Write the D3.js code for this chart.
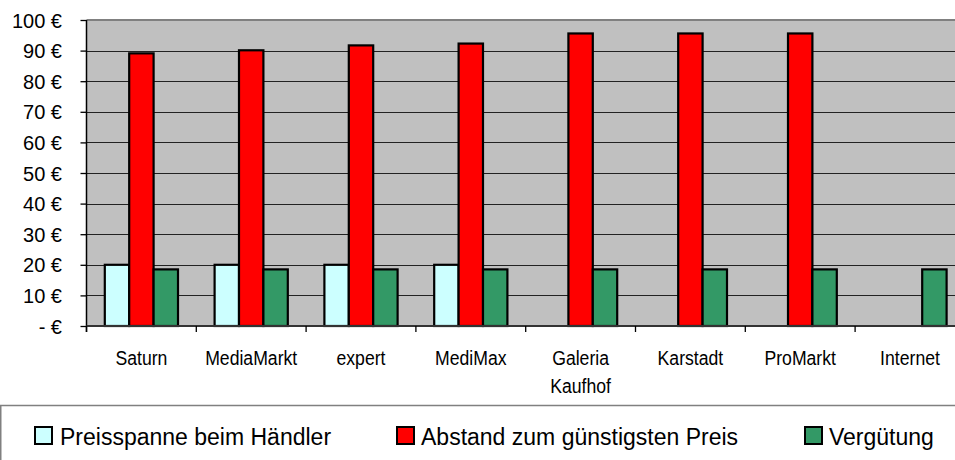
<!DOCTYPE html>
<html>
<head>
<meta charset="utf-8">
<script src="https://cdn.jsdelivr.net/npm/d3@7"></script>
<style>
  body { margin: 0; background: #fff; }
  svg { display: block; }
  .y-label { font-family: "Liberation Sans", Arial, sans-serif; font-size: 20px; fill: #000; }
  .x-label { font-family: "Liberation Sans", Arial, sans-serif; font-size: 21px; fill: #000; }
  .legend-label { font-family: "Liberation Sans", Arial, sans-serif; font-size: 23px; fill: #000; }
</style>
</head>
<body>
<svg id="chart"></svg>
<script>
// chart data
const categories = ["Saturn", "MediaMarkt", "expert", "MediMax", "Galeria\nKaufhof", "Karstadt", "ProMarkt", "Internet"];
const seriesNames = ["Preisspanne beim Händler", "Abstand zum günstigsten Preis", "Vergütung"];
const preisspanne = [20, 20, 20, 20, null, null, null, null];
const abstand = [89.1, 90.1, 91.7, 92.3, 95.6, 95.6, 95.6, null];
const verguetung = [18.5, 18.5, 18.5, 18.5, 18.5, 18.5, 18.5, 18.5];
const yTicks = [0, 10, 20, 30, 40, 50, 60, 70, 80, 90, 100];
const seriesColors = ["#CCFFFF", "#FF0000", "#339966"];

const svgWidth = 955;
const svgHeight = 460;

const svg = d3.select("#chart")
  .attr("width", svgWidth)
  .attr("height", svgHeight);

// plot area (runs past the right edge like the original)
const plotLeft = 86.5;
const plotTop = 20;
const plotBottom = 326;
const catStep = 109.8;
const plotRight = plotLeft + categories.length * catStep;

const xScale = d3.scaleBand()
  .domain(categories)
  .range([plotLeft, plotRight])
  .padding(0);

const xInner = d3.scaleBand()
  .domain(d3.range(seriesNames.length))
  .range([0, xScale.bandwidth()])
  .paddingInner(0)
  .paddingOuter(0.75);

const yScale = d3.scaleLinear()
  .domain([0, 100])
  .range([plotBottom, plotTop]);

// grey background
svg.append("rect")
  .attr("x", plotLeft)
  .attr("y", plotTop)
  .attr("width", plotRight - plotLeft)
  .attr("height", plotBottom - plotTop)
  .attr("fill", "#C0C0C0");

// gridlines
svg.append("g")
  .selectAll("line")
  .data(yTicks.filter(t => t > 0 && t < 100))
  .enter().append("line")
  .attr("x1", plotLeft)
  .attr("x2", plotRight)
  .attr("y1", d => Math.round(yScale(d)) + 0.5)
  .attr("y2", d => Math.round(yScale(d)) + 0.5)
  .attr("stroke", "#222")
  .attr("stroke-width", 1);

// top border of plot area
svg.append("line")
  .attr("x1", plotLeft)
  .attr("x2", plotRight)
  .attr("y1", plotTop)
  .attr("y2", plotTop)
  .attr("stroke", "#808080")
  .attr("stroke-width", 2);

// bars
const allSeries = [preisspanne, abstand, verguetung];
const barData = [];
categories.forEach((cat, i) => {
  allSeries.forEach((values, s) => {
    if (values[i] != null) barData.push({ cat: cat, s: s, value: values[i] });
  });
});

svg.append("g")
  .selectAll("rect")
  .data(barData)
  .enter().append("rect")
  .attr("x", d => xScale(d.cat) + xInner(d.s))
  .attr("y", d => yScale(d.value))
  .attr("width", xInner.bandwidth())
  .attr("height", d => yScale(0) - yScale(d.value))
  .attr("fill", d => seriesColors[d.s])
  .attr("stroke", "#000")
  .attr("stroke-width", 2.2);

// y axis
const yAxis = d3.axisLeft(yScale)
  .tickValues(yTicks)
  .tickSize(6)
  .tickFormat(d => d === 0 ? "-  €" : d + " €");

const yAxisGroup = svg.append("g")
  .attr("transform", "translate(" + plotLeft + ",0)")
  .call(yAxis);
yAxisGroup.select(".domain").remove();
yAxisGroup.selectAll("line").attr("stroke", "#000").attr("stroke-width", 1.3);
yAxisGroup.selectAll("text")
  .attr("class", "y-label")
  .attr("x", 62 - plotLeft)
  .attr("dy", "0.35em");

svg.append("line")
  .attr("x1", plotLeft)
  .attr("x2", plotLeft)
  .attr("y1", plotTop)
  .attr("y2", plotBottom + 6)
  .attr("stroke", "#000")
  .attr("stroke-width", 1.5);

// x axis line and category ticks
svg.append("line")
  .attr("x1", plotLeft)
  .attr("x2", plotRight)
  .attr("y1", plotBottom)
  .attr("y2", plotBottom)
  .attr("stroke", "#333")
  .attr("stroke-width", 2);

svg.append("g")
  .selectAll("line")
  .data(categories)
  .enter().append("line")
  .attr("x1", d => xScale(d))
  .attr("x2", d => xScale(d))
  .attr("y1", plotBottom)
  .attr("y2", plotBottom + 6)
  .attr("stroke", "#000")
  .attr("stroke-width", 1.3);

// x labels, squeezed horizontally like the narrow font of the original
const xLabels = svg.append("g")
  .selectAll("text")
  .data(categories)
  .enter().append("text")
  .attr("class", "x-label")
  .attr("text-anchor", "middle")
  .attr("transform", d => "translate(" + (xScale(d) + xScale.bandwidth() / 2) + ",365) scale(0.84,1)");

xLabels.each(function(d) {
  const lines = d.split("\n");
  const t = d3.select(this);
  lines.forEach((line, i) => {
    t.append("tspan")
      .attr("x", 0)
      .attr("dy", i === 0 ? 0 : 28)
      .text(line);
  });
});

// legend box
svg.append("rect")
  .attr("x", 0.75)
  .attr("y", 405.5)
  .attr("width", svgWidth + 10)
  .attr("height", 80)
  .attr("fill", "none")
  .attr("stroke", "#808080")
  .attr("stroke-width", 1.5);

const legendX = [34, 396, 804];
const legend = svg.append("g")
  .selectAll("g")
  .data(seriesNames)
  .enter().append("g")
  .attr("transform", (d, i) => "translate(" + legendX[i] + ",427)");

legend.append("rect")
  .attr("x", 1)
  .attr("y", 0)
  .attr("width", 17)
  .attr("height", 17)
  .attr("fill", (d, i) => seriesColors[i])
  .attr("stroke", "#000")
  .attr("stroke-width", 2);

legend.append("text")
  .attr("class", "legend-label")
  .attr("x", (d, i) => i === 0 ? 26 : 25)
  .attr("y", 17.5)
  .text(d => d);
</script>
</body>
</html>
